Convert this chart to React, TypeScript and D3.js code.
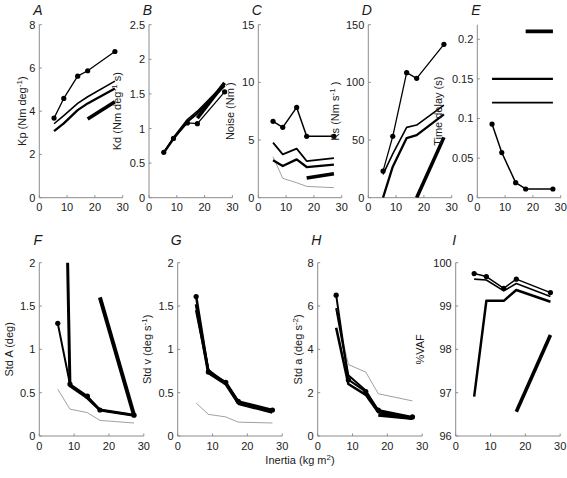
import React from 'react';
import * as d3 from 'd3';

// ---------- data ----------
const INERTIA = [5.3, 8.8, 13.8, 17.4, 27.2];
const INERTIA_HEAVY = [17.4, 27.2];
const X_TICKS = [0, 10, 20, 30];

// A: Kp
const KP_DOT = [3.68, 4.59, 5.62, 5.87, 6.76];
const KP_MID = [3.42, 3.8, 4.36, 4.67, 5.39];
const KP_THK = [3.08, 3.44, 4.05, 4.36, 5.05];
const KP_HEAVY = [3.64, 4.44];
// B: Kd
const KD_DOT = [0.655, 0.857, 1.08, 1.07, 1.53];
const KD_MID = [0.65, 0.87, 1.13, 1.25, 1.65];
const KD_THK = [0.65, 0.85, 1.1, 1.22, 1.62];
const KD_HEAVY = [1.15, 1.66];
// C: Noise
const NOISE_DOT = [6.62, 6.1, 7.83, 5.32, 5.32];
const NOISE_MID = [4.77, 3.76, 4.25, 3.18, 3.44];
const NOISE_THK = [3.24, 2.75, 3.32, 2.66, 2.86];
const NOISE_THIN = [3.55, 1.68, 1.3, 0.98, 0.87];
const NOISE_HEAVY = [1.7, 2.08];
// D: Ks
const KS_DOT = [23.1, 53.2, 108.4, 103.5, 133];
const KS_MID = [20.2, 38, 61, 63, 80.3];
const KS_THK = [0, 26.9, 51.7, 54.3, 72.3];
const KS_HEAVY = [0, 52.3];
// E: Time delay
const TD_DOT = [0.093, 0.057, 0.019, 0.011, 0.011];
const TD_MID = [0.15, 0.15, 0.15, 0.15, 0.15];
const TD_THN = [0.12, 0.12, 0.12, 0.12, 0.12];
const TD_HEAVY = [0.21, 0.21];
// F: Std A
const SA_DOT = [1.3, 0.6, 0.46, 0.3, 0.24];
const SA_THK = [8.0, 0.58, 0.44, 0.3, 0.24];
const SA_THIN = [0.54, 0.31, 0.27, 0.18, 0.15];
const SA_HEAVY = [1.6, 0.24];
// G: Std v
const SV_DOT = [1.61, 0.74, 0.62, 0.4, 0.3];
const SV_THK = [1.52, 0.73, 0.6, 0.38, 0.29];
const SV_MID = [1.45, 0.76, 0.61, 0.39, 0.28];
const SV_THIN = [0.38, 0.25, 0.22, 0.16, 0.15];
const SV_HEAVY = [0.38, 0.28];
// H: Std a
const SACC_DOT = [6.5, 2.6, 2.05, 1.2, 0.88];
const SACC_MID = [5.9, 2.8, 2.1, 1.15, 0.85];
const SACC_THK = [5.0, 2.4, 1.9, 1.1, 0.8];
const SACC_THIN = [5.8, 3.3, 2.95, 1.95, 1.62];
const SACC_HEAVY = [0.97, 0.82];
// I: %VAF
const VAF_DOT = [99.75, 99.68, 99.41, 99.62, 99.31];
const VAF_MID = [99.62, 99.6, 99.35, 99.52, 99.22];
const VAF_THK = [96.91, 99.12, 99.12, 99.37, 99.1];
const VAF_HEAVY = [96.56, 98.33];

// ---------- styles ----------
const FONT = '"Liberation Sans", Arial, Helvetica, sans-serif';
const AXIS_COLOR = '#8c8c8c';
const TEXT_COLOR = '#1a1a1a';
const THIN_COLOR = '#777';

type Series = { xs: number[]; ys: number[]; lw: number; color?: string; dots?: boolean };
type Sup = { main: string; sup?: string; tail?: string };
type PanelCfg = {
  id: string;
  letter: string;
  left: number;
  top: number;
  width: number;
  height: number;
  domain: [number, number];
  yTicks: number[];
  label: Sup;
  labelX: number;
  series: Series[];
};

const TOP = { top: 24.7, height: 173 };
const BOT = { top: 262.7, height: 173.3 };
const TW = 83.4;
const BW = 104.5;

const t = (x: number[]) => x;

const PANELS: PanelCfg[] = [
  {
    id: 'A', letter: 'A', left: 39.3, ...TOP, width: TW, domain: [0, 8], yTicks: [0, 2, 4, 6, 8],
    label: { main: 'Kp (Nm deg', sup: '-1', tail: ')' }, labelX: 22,
    series: [
      { xs: INERTIA, ys: KP_MID, lw: 1.6 },
      { xs: INERTIA, ys: KP_THK, lw: 2.3 },
      { xs: INERTIA_HEAVY, ys: KP_HEAVY, lw: 3.6 },
      { xs: INERTIA, ys: KP_DOT, lw: 1.3, dots: true },
    ],
  },
  {
    id: 'B', letter: 'B', left: 149, ...TOP, width: TW, domain: [0, 2.5], yTicks: [0, 0.5, 1, 1.5, 2, 2.5],
    label: { main: 'Kd (Nm deg', sup: '-1', tail: ' s)' }, labelX: 117,
    series: [
      { xs: INERTIA, ys: KD_MID, lw: 1.6 },
      { xs: INERTIA, ys: KD_THK, lw: 2.3 },
      { xs: INERTIA_HEAVY, ys: KD_HEAVY, lw: 3.6 },
      { xs: INERTIA, ys: KD_DOT, lw: 1.3, dots: true },
    ],
  },
  {
    id: 'C', letter: 'C', left: 258.3, ...TOP, width: TW, domain: [0, 15], yTicks: [0, 5, 10, 15],
    label: { main: 'Noise (Nm', sup: ' ', tail: ')' }, labelX: 230,
    series: [
      { xs: INERTIA, ys: NOISE_THIN, lw: 0.7, color: THIN_COLOR },
      { xs: INERTIA, ys: NOISE_MID, lw: 1.8 },
      { xs: INERTIA, ys: NOISE_THK, lw: 2.3 },
      { xs: INERTIA_HEAVY, ys: NOISE_HEAVY, lw: 3.6 },
      { xs: INERTIA, ys: NOISE_DOT, lw: 1.5, dots: true },
    ],
  },
  {
    id: 'D', letter: 'D', left: 368.3, ...TOP, width: TW, domain: [0, 150], yTicks: [0, 50, 100, 150],
    label: { main: 'Ks (Nm s', sup: '-1', tail: ' )' }, labelX: 335,
    series: [
      { xs: INERTIA, ys: KS_MID, lw: 1.6 },
      { xs: INERTIA, ys: KS_THK, lw: 2.3 },
      { xs: INERTIA_HEAVY, ys: KS_HEAVY, lw: 3.6 },
      { xs: INERTIA, ys: KS_DOT, lw: 1.3, dots: true },
    ],
  },
  {
    id: 'E', letter: 'E', left: 477.3, ...TOP, width: TW, domain: [0, 0.2184], yTicks: [0, 0.05, 0.1, 0.15, 0.2],
    label: { main: 'Time delay (s)' }, labelX: 438,
    series: [
      { xs: INERTIA, ys: TD_THN, lw: 1.6 },
      { xs: INERTIA, ys: TD_MID, lw: 2.3 },
      { xs: INERTIA_HEAVY, ys: TD_HEAVY, lw: 3.6 },
      { xs: INERTIA, ys: TD_DOT, lw: 1.5, dots: true },
    ],
  },
  {
    id: 'F', letter: 'F', left: 39.3, ...BOT, width: BW, domain: [0, 2], yTicks: [0, 0.5, 1, 1.5, 2],
    label: { main: 'Std A (deg)' }, labelX: 8.5,
    series: [
      { xs: INERTIA, ys: SA_THIN, lw: 0.7, color: THIN_COLOR },
      { xs: INERTIA, ys: SA_THK, lw: 3 },
      { xs: INERTIA_HEAVY, ys: SA_HEAVY, lw: 4 },
      { xs: INERTIA, ys: SA_DOT, lw: 2, dots: true },
    ],
  },
  {
    id: 'G', letter: 'G', left: 177.7, ...BOT, width: BW, domain: [0, 2], yTicks: [0, 0.5, 1, 1.5, 2],
    label: { main: 'Std v (deg s', sup: '-1', tail: ')' }, labelX: 147,
    series: [
      { xs: INERTIA, ys: SV_THIN, lw: 0.7, color: THIN_COLOR },
      { xs: INERTIA, ys: SV_MID, lw: 2.5 },
      { xs: INERTIA, ys: SV_THK, lw: 3 },
      { xs: INERTIA_HEAVY, ys: SV_HEAVY, lw: 4 },
      { xs: INERTIA, ys: SV_DOT, lw: 2.5, dots: true },
    ],
  },
  {
    id: 'H', letter: 'H', left: 317.7, ...BOT, width: BW, domain: [0, 8], yTicks: [0, 2, 4, 6, 8],
    label: { main: 'Std a (deg s', sup: '-2', tail: ')' }, labelX: 297.5,
    series: [
      { xs: INERTIA, ys: SACC_THIN, lw: 0.7, color: THIN_COLOR },
      { xs: INERTIA, ys: SACC_MID, lw: 2 },
      { xs: INERTIA, ys: SACC_THK, lw: 2.6 },
      { xs: INERTIA_HEAVY, ys: SACC_HEAVY, lw: 3.6 },
      { xs: INERTIA, ys: SACC_DOT, lw: 2, dots: true },
    ],
  },
  {
    id: 'I', letter: 'I', left: 455.7, ...BOT, width: BW, domain: [96, 100], yTicks: [96, 97, 98, 99, 100],
    label: { main: '%VAF' }, labelX: 420,
    series: [
      { xs: INERTIA, ys: VAF_MID, lw: 1.6 },
      { xs: INERTIA, ys: VAF_THK, lw: 2.5 },
      { xs: INERTIA_HEAVY, ys: VAF_HEAVY, lw: 3.6 },
      { xs: INERTIA, ys: VAF_DOT, lw: 1.5, dots: true },
    ],
  },
];

const fmt = (v: number) => String(+v.toFixed(3));

function Panel({ cfg }: { cfg: PanelCfg }) {
  const x = d3.scaleLinear().domain([0, 30]).range([cfg.left, cfg.left + cfg.width]);
  const y = d3.scaleLinear().domain(cfg.domain).range([cfg.top + cfg.height, cfg.top]);
  const bottom = cfg.top + cfg.height;
  const clipId = `clip-${cfg.id}`;
  const cy = cfg.top + cfg.height / 2;
  return (
    <g>
      <defs>
        <clipPath id={clipId}>
          <rect x={cfg.left - 6} y={cfg.top} width={cfg.width + 12} height={cfg.height} />
        </clipPath>
      </defs>
      {/* axes */}
      <line x1={cfg.left} x2={cfg.left} y1={cfg.top} y2={bottom} stroke={AXIS_COLOR} strokeWidth={1} />
      <line x1={cfg.left} x2={cfg.left + cfg.width} y1={bottom} y2={bottom} stroke={AXIS_COLOR} strokeWidth={1} />
      {X_TICKS.map((tv) => (
        <g key={'x' + tv}>
          <line x1={x(tv)} x2={x(tv)} y1={bottom} y2={bottom - 2.5} stroke={AXIS_COLOR} strokeWidth={1} />
          <text x={x(tv)} y={bottom + 13.6} textAnchor="middle" fontSize={11} fontFamily={FONT} fill={TEXT_COLOR}>
            {tv}
          </text>
        </g>
      ))}
      {cfg.yTicks.map((tv) => (
        <g key={'y' + tv}>
          <line x1={cfg.left} x2={cfg.left + 2.5} y1={y(tv)} y2={y(tv)} stroke={AXIS_COLOR} strokeWidth={1} />
          <text x={cfg.left - 4} y={y(tv) + 4} textAnchor="end" fontSize={11} fontFamily={FONT} fill={TEXT_COLOR}>
            {fmt(tv)}
          </text>
        </g>
      ))}
      {/* y label */}
      <text
        transform={`translate(${cfg.labelX + 4},${cy}) rotate(-90)`}
        textAnchor="middle"
        fontSize={11}
        fontFamily={FONT}
        fill={TEXT_COLOR}
      >
        {cfg.label.main}
        {cfg.label.sup !== undefined && (
          <tspan dy={-4} fontSize={8}>
            {cfg.label.sup}
          </tspan>
        )}
        {cfg.label.tail !== undefined && <tspan dy={4}>{cfg.label.tail}</tspan>}
      </text>
      {/* panel letter */}
      <text
        x={cfg.left - 1.5}
        y={cfg.top - (cfg.top < 100 ? 9.5 : 17.5)}
        textAnchor="middle"
        fontSize={14}
        fontStyle="italic"
        fontFamily={FONT}
        fill={TEXT_COLOR}
      >
        {cfg.letter}
      </text>
      {/* data */}
      <g clipPath={`url(#${clipId})`}>
        {cfg.series.map((s, si) => {
          const line = d3
            .line<number>()
            .x((_, i) => x(s.xs[i]))
            .y((d) => y(d));
          return (
            <g key={si}>
              <path
                d={line(s.ys) || ''}
                fill="none"
                stroke={s.color || '#000'}
                strokeWidth={s.lw}
                strokeLinejoin="round"
              />
              {s.dots &&
                s.ys.map((v, i) => <circle key={i} cx={x(s.xs[i])} cy={y(v)} r={2.6} fill="#000" />)}
            </g>
          );
        })}
      </g>
    </g>
  );
}

export default function App() {
  return (
    <svg
      width={567}
      height={478}
      style={{ position: 'absolute', left: 0, top: 0, background: '#fff' }}
    >
      <rect x={0} y={0} width={567} height={478} fill="#fff" />
      {PANELS.map((p) => (
        <Panel key={p.id} cfg={p} />
      ))}
      <text x={300} y={464} textAnchor="middle" fontSize={11} fontFamily={FONT} fill={TEXT_COLOR}>
        Inertia (kg m<tspan dy={-4} fontSize={8}>2</tspan>
        <tspan dy={4}>)</tspan>
      </text>
    </svg>
  );
}
